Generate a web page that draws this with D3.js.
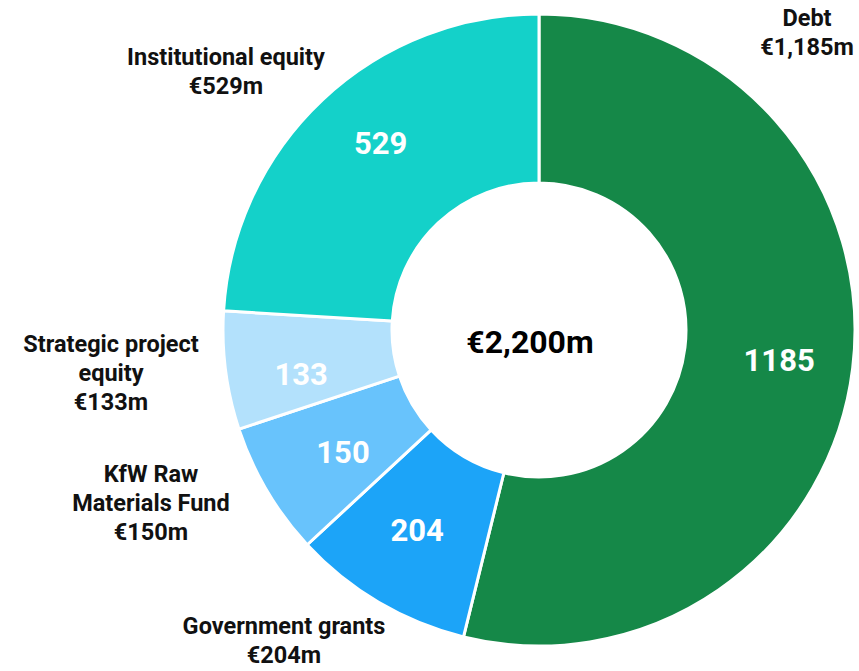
<!DOCTYPE html>
<html><head><meta charset="utf-8">
<script src="https://cdn.jsdelivr.net/npm/d3@7"></script>
<style>body{margin:0;background:#fff;} svg{display:block;font-family:Roboto,"Noto Sans",sans-serif;font-weight:700;}</style>
</head><body>
<svg id="c" width="859" height="671"></svg>
<script>
const categories = ["Debt","Government grants","KfW Raw Materials Fund","Strategic project equity","Institutional equity"];
const values = [1185, 204, 150, 133, 529];
const sliceLabels = ["1185","204","150","133","529"];
const outerLabels = [
  ["Debt","€1,185m"],
  ["Government grants","€204m"],
  ["KfW Raw","Materials Fund","€150m"],
  ["Strategic project","equity","€133m"],
  ["Institutional equity","€529m"]
];
const totalLabel = "€2,200m";
const colors = ["#158848","#1ca4f8","#68c3fc","#b3e1fc","#14d1c9"];
// layout: outer label anchors, inside-label radius and angle nudge (degrees)
const outerPos = [[807,26],[284,634],[151,482],[111,352],[226,65]];
const labelRadius = [242,234,231,242,245];
const labelNudge = [0.2,0.9,-1.4,-3.1,3.0];

const svg = d3.select("#c");
const cx = 539, cy = 330, R = 316, r0 = 147;
const g = svg.append("g").attr("transform",`translate(${cx},${cy})`);
const pie = d3.pie().sort(null).value(d=>d)(values);
const arc = d3.arc().innerRadius(r0).outerRadius(R);
g.selectAll("path").data(pie).join("path")
  .attr("d",arc).attr("fill",(d,i)=>colors[i])
  .attr("stroke","#fff").attr("stroke-width",3).attr("stroke-linejoin","round");
g.selectAll("text.v").data(pie).join("text").attr("class","v")
  .attr("transform",(d,i)=>{
    const a = (d.startAngle+d.endAngle)/2 + labelNudge[i]*Math.PI/180;
    return `translate(${labelRadius[i]*Math.sin(a)},${-labelRadius[i]*Math.cos(a)})`;
  })
  .attr("text-anchor","middle").attr("dy","0.36em")
  .attr("fill","#fff").attr("font-size",31).text((d,i)=>sliceLabels[i]);
svg.append("text").attr("x",cx-9).attr("y",cy+23).attr("text-anchor","middle")
  .attr("font-size",32).attr("fill","#000").text(totalLabel);
outerLabels.forEach((lines,i)=>{
  const t = svg.append("text").attr("text-anchor","middle").attr("font-size",23.5).attr("fill","#111");
  lines.forEach((l,j)=>t.append("tspan").attr("x",outerPos[i][0]).attr("y",outerPos[i][1]+j*29).text(l));
});
</script>
</body></html>
